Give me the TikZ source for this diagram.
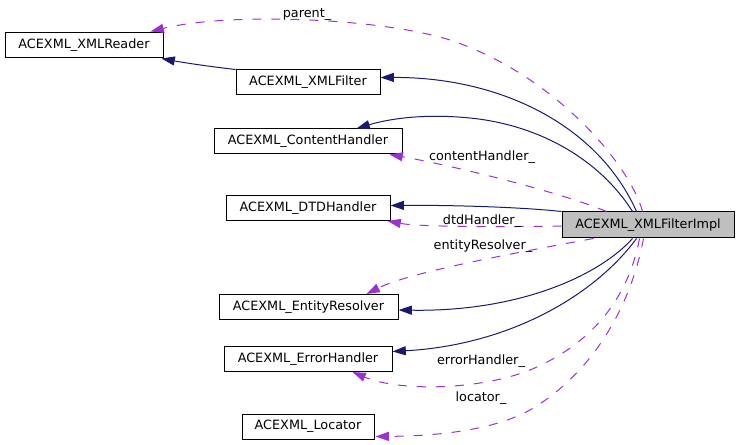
\documentclass[tikz,border=0pt]{standalone}
\usepackage{fontspec}
\setmainfont{DejaVu Sans}
\usetikzlibrary{arrows.meta,calc}
\definecolor{navy}{RGB}{25,25,112}
\definecolor{orchid}{RGB}{154,50,205}
\definecolor{implgray}{RGB}{191,191,191}
\begin{document}
\begin{tikzpicture}[x=0.75pt,y=-0.75pt,
  cls/.style={draw=black, line width=0.75pt, rectangle, inner sep=0pt,
    minimum height=18.75pt, font=\fontsize{9.6}{11}\selectfont},
  inh/.style={draw=navy, line width=0.75pt, -{Triangle[length=10pt,width=6.75pt]}},
  use/.style={draw=orchid, line width=0.75pt, dash pattern=on 6.75pt off 7.5pt,
    -{Triangle[length=10pt,width=6.75pt]}},
  lbl/.style={font=\fontsize{9.6}{11}\selectfont, anchor=base, inner sep=0pt}]
\useasboundingbox (0,0) rectangle (739,445);
% classes
\node[cls, minimum width=118.5pt] (reader) at (84,45.5) {ACEXML\_XMLReader};
\node[cls, minimum width=108pt] (filter) at (308,82.5) {ACEXML\_XMLFilter};
\node[cls, minimum width=141pt] (content) at (308,141.5) {ACEXML\_ContentHandler};
\node[cls, minimum width=123pt] (dtd) at (308,208) {ACEXML\_DTDHandler};
\node[cls, minimum width=134.25pt] (entity) at (308.5,307) {ACEXML\_EntityResolver};
\node[cls, minimum width=126pt] (error) at (308,359) {ACEXML\_ErrorHandler};
\node[cls, minimum width=99pt] (locator) at (308,426.5) {ACEXML\_Locator};
\node[cls, fill=implgray, minimum width=129pt, minimum height=19.5pt] (impl) at (648,225) {ACEXML\_XMLFilterImpl};
% XMLFilter -> XMLReader
\draw[inh] (filter.north west) .. controls (205,66) and (180,62) .. ($(reader.south east)+(-2,0)$);
% parent_
\draw[use] ($(impl.north west)+(81,0)$) .. controls (630,165) and (555,75) .. (450,40)
  .. controls (380,18) and (230,12) .. ($(reader.north east)+(-13,-1)$);
\node[lbl] (lparent) at (307,17.5) {parent\_};
% XMLFilter
\draw[inh] ($(impl.north west)+(75,0)$) .. controls (598,125) and (500,77) .. ($(filter.east)+(0,-5)$);
% ContentHandler
\draw[inh] ($(impl.north west)+(71,0)$) .. controls (600,160) and (540,125) .. (470,118)
  .. controls (420,113) and (385,120) .. ($(content.north east)+(-46,0)$);
\draw[use] ($(impl.north west)+(45,0)$) .. controls (560,192) and (450,165) .. ($(content.south east)+(-13,0)$);
\node[lbl] (lcontent) at (482,161) {contentHandler\_};
% DTDHandler
\draw[inh] (impl.north west) .. controls (520,207) and (450,205) .. ($(dtd.east)+(0,-2.5)$);
\draw[use] ($(impl.west)+(0,1)$) .. controls (500,227) and (420,227) .. ($(dtd.south east)+(-3,0)$);
\node[lbl] (ldtd) at (482,225) {dtdHandler\_};
% EntityResolver
\draw[use] ($(impl.south west)+(32,0)$) .. controls (520,252) and (410,272) .. ($(entity.north east)+(-32,0)$);
\node[lbl] (lentity) at (483,250) {entityResolver\_};
\draw[inh] ($(impl.south west)+(71,0)$) .. controls (600,275) and (520,312) .. ($(entity.east)+(0,3)$);
% ErrorHandler
\draw[inh] ($(impl.south west)+(75,0)$) .. controls (595,295) and (510,345) .. ($(error.east)+(0,-7.5)$);
\draw[use] ($(impl.south west)+(78,0)$) .. controls (628,300) and (590,345) .. (530,370)
  .. controls (480,390) and (400,392) .. ($(error.south east)+(-40,0)$);
\node[lbl] (lerror) at (481,364) {errorHandler\_};
% Locator
\draw[use] ($(impl.south west)+(82,0)$) .. controls (630,310) and (590,375) .. (530,410)
  .. controls (490,432) and (430,436) .. ($(locator.south east)+(1,-3)$);
\node[lbl] (llocator) at (481,401) {locator\_};
\end{tikzpicture}
\end{document}
